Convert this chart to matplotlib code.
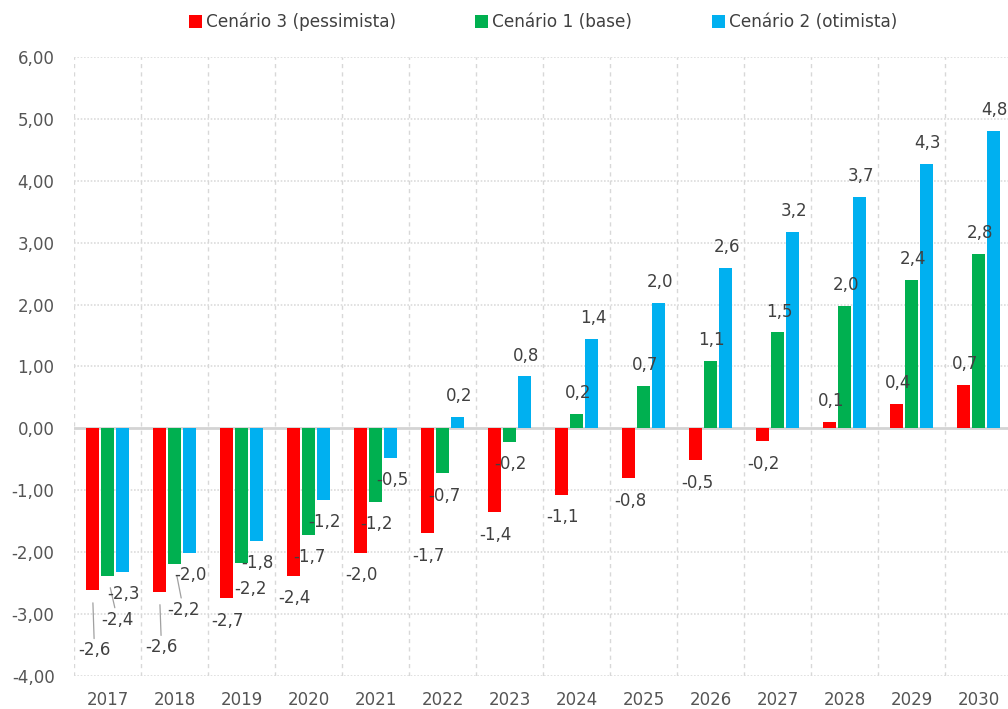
import matplotlib
matplotlib.use("Agg")
import matplotlib.pyplot as plt
import numpy as np

years = ["2017", "2018", "2019", "2020", "2021", "2022", "2023",
         "2024", "2025", "2026", "2027", "2028", "2029", "2030"]
series_names = ["Cenário 3 (pessimista)", "Cenário 1 (base)", "Cenário 2 (otimista)"]
pessimista = [-2.62, -2.65, -2.75, -2.39, -2.01, -1.70, -1.36, -1.08, -0.81, -0.52, -0.21, 0.10, 0.40, 0.70]
base = [-2.38, -2.19, -2.18, -1.72, -1.19, -0.73, -0.22, 0.23, 0.69, 1.09, 1.55, 1.98, 2.40, 2.82]
otimista = [-2.32, -2.02, -1.82, -1.16, -0.48, 0.18, 0.84, 1.44, 2.03, 2.59, 3.18, 3.74, 4.28, 4.81]
lab_pessimista = ["-2,6", "-2,6", "-2,7", "-2,4", "-2,0", "-1,7", "-1,4", "-1,1", "-0,8", "-0,5", "-0,2", "0,1", "0,4", "0,7"]
lab_base = ["-2,4", "-2,2", "-2,2", "-1,7", "-1,2", "-0,7", "-0,2", "0,2", "0,7", "1,1", "1,5", "2,0", "2,4", "2,8"]
lab_otimista = ["-2,3", "-2,0", "-1,8", "-1,2", "-0,5", "0,2", "0,8", "1,4", "2,0", "2,6", "3,2", "3,7", "4,3", "4,8"]
yticks = [-4, -3, -2, -1, 0, 1, 2, 3, 4, 5, 6]

colors = ["#FF0000", "#00B050", "#00B0F0"]
all_vals = [pessimista, base, otimista]
all_labs = [lab_pessimista, lab_base, lab_otimista]

# special label offsets (pixels): (series, index) -> (dx, dy_down, leader)
special = {(0, 0): (2, 60, True), (1, 0): (10, 44, True),
           (0, 1): (2, 55, True), (1, 1): (9, 46, True),
           (1, 2): (9, 26, False)}

fig = plt.figure(figsize=(10.08, 7.09), dpi=100)
ax = fig.add_axes([74/1008, 1-675.7/709, (1012-74)/1008, (675.7-57.3)/709])

x = np.arange(len(years))
w = 0.194
step = 0.224
for s, (vals, col) in enumerate(zip(all_vals, colors)):
    ax.bar(x + (s-1)*step, vals, width=w, color=col, zorder=3, label=series_names[s])

ax.set_xlim(-0.5, len(years)-0.5)
ax.set_ylim(-4, 6)
ax.set_yticks(yticks)
ax.set_yticklabels([f"{v:.2f}".replace(".", ",") for v in yticks])
ax.set_xticks(x)
ax.set_xticklabels(years)
ax.tick_params(axis="both", length=0, labelsize=12, colors="#555555")
ax.tick_params(axis="y", pad=14)
ax.tick_params(axis="x", pad=11)
for sp in ax.spines.values():
    sp.set_visible(False)

for v in yticks:
    if v == 0:
        ax.axhline(0, color="#d4d4d4", lw=2, zorder=2)
    else:
        ax.axhline(v, color="#dcdcdc", lw=1.2, ls=(0, (1, 1)), zorder=1)
for b in np.arange(-0.5, len(years), 1.0):
    ax.axvline(b, color="#d8d8d8", lw=1, ls=(0, (3, 3)), zorder=1)

fs = 12
for s in range(3):
    for i, (v, lab) in enumerate(zip(all_vals[s], all_labs[s])):
        xc = x[i] + (s-1)*step
        if (s, i) in special:
            dx, dy, leader = special[(s, i)]
            ax.annotate(lab, (xc, v), xytext=(dx*0.72, -dy*0.72), textcoords="offset points",
                        ha="center", va="center", fontsize=fs, color="#404040", zorder=5,
                        arrowprops=dict(arrowstyle="-", color="#a0a0a0", lw=0.9,
                                        shrinkA=0, shrinkB=9) if leader else None)
        elif v >= 0:
            ax.annotate(lab, (xc, v), xytext=(1, 15), textcoords="offset points",
                        ha="center", va="center", fontsize=fs, color="#404040", zorder=5)
        else:
            ax.annotate(lab, (xc, v), xytext=(1, -16), textcoords="offset points",
                        ha="center", va="center", fontsize=fs, color="#404040", zorder=5)

leg = fig.legend(loc="center", bbox_to_anchor=(543/1008, 1-22/709), ncol=3, frameon=False,
                 handlelength=0.75, handleheight=0.75, handletextpad=0.25, columnspacing=4.7,
                 fontsize=12.2)
for t in leg.get_texts():
    t.set_color("#404040")

fig.savefig("out.png", dpi=100)
